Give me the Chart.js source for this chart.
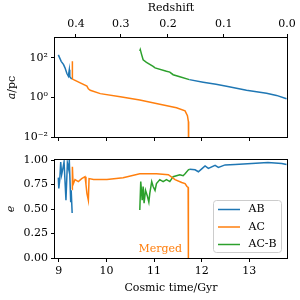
<!DOCTYPE html>
<html>
<head>
<meta charset="utf-8">
<script src="https://cdn.jsdelivr.net/npm/chart.js@4"></script>
<style>
  body { margin: 0; background: #fff; }
  .panel { position: absolute; left: 0; width: 300px; height: 150px; }
</style>
</head>
<body>
<div class="panel" style="top:0"><canvas id="sepChart" width="300" height="150"></canvas></div>
<div class="panel" style="top:150px"><canvas id="eccChart" width="300" height="150"></canvas></div>
<script>
// shared time axis
const timeMin = 8.92;
const timeMax = 13.79;
const timeTicks = [9, 10, 11, 12, 13];
const redshiftLabels = ["0.4", "0.3", "0.2", "0.1", "0.0"];
const redshiftTimes = [9.36, 10.30, 11.29, 12.46, 13.79];

// top panel: separation a/pc (null = gap)
const sepTicks = [0.01, 1, 100];
const sepTickLabels = ["10⁻²", "10⁰", "10²"];
const abSepTime = [8.99, 9.05, 9.10, 9.13, 9.17, 9.20, 9.22, 9.23, 9.27, 10.5, 11.74, 12.03, 12.30, 12.52, 12.94, 13.36, 13.57, 13.78];
const abSep = [141, 66, 45, 31, 16, 11.7, 25, 11, 8.6, null, 7.9, 5.9, 4.6, 3.7, 2.3, 1.6, 1.26, 0.85];
const acSepTime = [9.285, 9.285, 9.31, 9.45, 9.59, 9.62, 9.66, 9.87, 10.29, 10.70, 11.12, 11.47, 11.65, 11.70, 11.72, 11.725];
const acSep = [66, 8.5, 7.9, 5.4, 3.7, 2.7, 2.3, 1.55, 1.08, 0.74, 0.45, 0.3, 0.21, 0.12, 0.06, 0.001];
const acbSepTime = [10.70, 10.71, 10.74, 10.77, 10.84, 10.98, 11.02, 11.26, 11.33, 11.40, 11.54, 11.74];
const acbSep = [220, 260, 141, 79, 59, 37, 31, 21, 19, 14, 11, 7.9];

// bottom panel: eccentricity e
const eccTicks = [0, 0.25, 0.5, 0.75, 1];
const abEccTime = [8.99, 9.0, 9.02, 9.04, 9.06, 9.08, 9.11, 9.15, 9.18, 9.21, 9.22, 9.25, 9.26, 9.28, 10.5,
  11.75, 11.86, 11.93, 12.0, 12.07, 12.14, 12.28, 12.35, 12.49, 12.70, 13.05, 13.39, 13.68, 13.78];
const abEcc = [0.82, 0.71, 0.8, 0.98, 0.85, 0.9, 0.98, 0.59, 0.97, 0.9, 1.0, 0.57, 0.69, 0.46, null,
  0.905, 0.9, 0.88, 0.91, 0.94, 0.915, 0.945, 0.925, 0.95, 0.955, 0.965, 0.975, 0.965, 0.955];
const acEccTime = [9.28, 9.285, 9.30, 9.34, 9.41, 9.48, 9.55, 9.57, 9.59, 9.62, 9.635, 9.73, 10.01, 10.35, 10.70, 11.05, 11.30, 11.44, 11.58, 11.65, 11.69, 11.715, 11.72];
const acEcc = [0.7, 0.93, 0.75, 0.8, 0.78, 0.81, 0.83, 0.75, 0.66, 0.59, 0.81, 0.8, 0.8, 0.82, 0.86, 0.86, 0.85, 0.8, 0.77, 0.76, 0.73, 0.72, 0];
const acbEccTime = [10.70, 10.72, 10.75, 10.77, 10.79, 10.82, 10.86, 10.89, 10.91, 10.95, 10.98, 11.02, 11.05, 11.12, 11.19, 11.26, 11.33, 11.40, 11.47, 11.54, 11.61, 11.65, 11.72, 11.75];
const acbEcc = [0.49, 0.78, 0.59, 0.73, 0.56, 0.69, 0.63, 0.57, 0.66, 0.78, 0.73, 0.69, 0.76, 0.8, 0.78, 0.8, 0.78, 0.83, 0.84, 0.85, 0.84, 0.86, 0.9, 0.905];

const mergedAt = { x: 11.13, y: 0.09 };

const colors = { AB: "#1f77b4", AC: "#ff7f0e", ACB: "#2ca02c" };
const fontFamily = "'DejaVu Serif', serif";

Chart.defaults.font.family = fontFamily;
Chart.defaults.font.size = 11;
Chart.defaults.color = "#000";

function pts(xs, ys) {
  return xs.map((x, i) => ({ x: x, y: ys[i] }));
}

function line(label, color, data) {
  return { label: label, data: data, borderColor: color, backgroundColor: color,
    borderWidth: 1.5, pointRadius: 0, tension: 0, fill: false };
}

function fixTicks(values) {
  return (scale) => { scale.ticks = values.map((v) => ({ value: v })); };
}

const tickGrid = { drawOnChartArea: false, color: "#000", tickLength: 4, lineWidth: 1 };

const framePlugin = {
  id: "frame",
  afterDraw(chart) {
    const a = chart.chartArea;
    const ctx = chart.ctx;
    ctx.save();
    ctx.strokeStyle = "#000";
    ctx.lineWidth = 1;
    ctx.strokeRect(Math.round(a.left) - 0.5, Math.round(a.top) - 0.5,
      Math.round(a.right - a.left) + 1, Math.round(a.bottom - a.top) + 1);
    ctx.restore();
  }
};

// y label "a/pc" with an italic a, like the mathtext original
const sepLabelPlugin = {
  id: "sepLabel",
  afterDraw(chart) {
    const a = chart.chartArea;
    const ctx = chart.ctx;
    const italic = "italic 11px " + fontFamily;
    const upright = "11px " + fontFamily;
    ctx.save();
    ctx.font = italic;
    const wa = ctx.measureText("a").width;
    ctx.font = upright;
    const wr = ctx.measureText("/pc").width;
    ctx.translate(12, (a.top + a.bottom) / 2);
    ctx.rotate(-Math.PI / 2);
    ctx.fillStyle = "#000";
    ctx.textBaseline = "middle";
    ctx.textAlign = "left";
    const start = -(wa + wr) / 2;
    ctx.font = italic;
    ctx.fillText("a", start, 0);
    ctx.font = upright;
    ctx.fillText("/pc", start + wa, 0);
    ctx.restore();
  }
};

const legendPlugin = {
  id: "boxLegend",
  afterDatasetsDraw(chart) {
    const ctx = chart.ctx;
    const a = chart.chartArea;
    const w = 68, h = 52;
    const left = a.right - 5.5 - w;
    const top = a.bottom - 5.5 - h;
    ctx.save();
    ctx.beginPath();
    ctx.roundRect(left, top, w, h, 3);
    ctx.fillStyle = "rgba(255,255,255,0.8)";
    ctx.fill();
    ctx.strokeStyle = "#cccccc";
    ctx.lineWidth = 1;
    ctx.stroke();
    ctx.font = "11px " + fontFamily;
    ctx.textBaseline = "middle";
    chart.data.datasets.forEach((d, i) => {
      const y = top + 9 + i * 17.5;
      ctx.strokeStyle = d.borderColor;
      ctx.lineWidth = 1.5;
      ctx.beginPath();
      ctx.moveTo(left + 4.5, y);
      ctx.lineTo(left + 26.5, y);
      ctx.stroke();
      ctx.fillStyle = "#000";
      ctx.fillText(d.label, left + 35, y);
    });
    ctx.restore();
  }
};

const mergedPlugin = {
  id: "merged",
  afterDatasetsDraw(chart) {
    const ctx = chart.ctx;
    ctx.save();
    ctx.font = "11px " + fontFamily;
    ctx.fillStyle = colors.AC;
    ctx.textAlign = "center";
    ctx.textBaseline = "middle";
    ctx.fillText("Merged", chart.scales.x.getPixelForValue(mergedAt.x), chart.scales.y.getPixelForValue(mergedAt.y));
    ctx.restore();
  }
};

new Chart("sepChart", {
  type: "line",
  data: {
    datasets: [
      line("AB", colors.AB, pts(abSepTime, abSep)),
      line("AC", colors.AC, pts(acSepTime, acSep)),
      line("AC-B", colors.ACB, pts(acbSepTime, acbSep))
    ]
  },
  options: {
    responsive: false,
    animation: false,
    devicePixelRatio: 1,
    layout: { padding: { left: 0, right: 13, top: 0, bottom: 0 } },
    plugins: { legend: { display: false }, tooltip: { enabled: false } },
    scales: {
      x: {
        type: "linear", position: "bottom", min: timeMin, max: timeMax,
        afterBuildTicks: fixTicks(timeTicks),
        ticks: { display: false, autoSkip: false },
        grid: tickGrid, border: { display: false },
        afterFit: (s) => { s.height = 13; }
      },
      xz: {
        type: "linear", position: "top", min: timeMin, max: timeMax,
        afterBuildTicks: fixTicks(redshiftTimes),
        ticks: { autoSkip: false, maxRotation: 0, padding: 3, callback: (v, i) => redshiftLabels[i] },
        grid: tickGrid, border: { display: false },
        title: { display: true, text: "Redshift", padding: { top: 2, bottom: 0 } },
        afterFit: (s) => { s.height = 38; }
      },
      y: {
        type: "logarithmic", min: 0.01, max: 1000,
        afterBuildTicks: fixTicks(sepTicks),
        ticks: { autoSkip: false, padding: 3, callback: (v, i) => sepTickLabels[i] },
        grid: tickGrid, border: { display: false },
        afterFit: (s) => { s.width = 55; }
      }
    }
  },
  plugins: [framePlugin, sepLabelPlugin]
});

new Chart("eccChart", {
  type: "line",
  data: {
    datasets: [
      line("AB", colors.AB, pts(abEccTime, abEcc)),
      line("AC", colors.AC, pts(acEccTime, acEcc)),
      line("AC-B", colors.ACB, pts(acbEccTime, acbEcc))
    ]
  },
  options: {
    responsive: false,
    animation: false,
    devicePixelRatio: 1,
    layout: { padding: { left: 0, right: 13, top: 10, bottom: 0 } },
    plugins: { legend: { display: false }, tooltip: { enabled: false } },
    scales: {
      x: {
        type: "linear", position: "bottom", min: timeMin, max: timeMax,
        afterBuildTicks: fixTicks(timeTicks),
        ticks: { autoSkip: false, maxRotation: 0, padding: 3 },
        grid: tickGrid, border: { display: false },
        title: { display: true, text: "Cosmic time/Gyr", padding: { top: 0, bottom: 5 } },
        afterFit: (s) => { s.height = 42; }
      },
      y: {
        type: "linear", min: 0, max: 1,
        afterBuildTicks: fixTicks(eccTicks),
        ticks: { autoSkip: false, padding: 3, callback: (v) => v.toFixed(2) },
        grid: tickGrid, border: { display: false },
        title: { display: true, text: "e", font: { style: "italic" }, padding: { top: 5, bottom: 0 } },
        afterFit: (s) => { s.width = 55; }
      }
    }
  },
  plugins: [framePlugin, legendPlugin, mergedPlugin]
});
</script>
</body>
</html>
